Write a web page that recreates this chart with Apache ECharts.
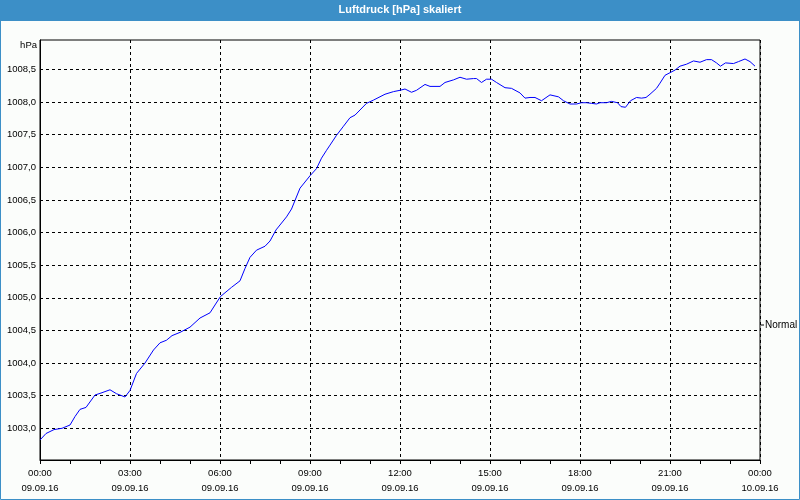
<!DOCTYPE html>
<html><head><meta charset="utf-8">
<script src="https://cdn.jsdelivr.net/npm/echarts@6/dist/echarts.min.js"></script>
<style>html,body{margin:0;padding:0;background:#fbfdfb}#c{width:800px;height:500px}</style>
</head><body><div id="c"></div>
<script>
// Measurement times (09.09.16) and air pressure values [hPa]
const times = ['00:00','00:12','00:28','00:44','01:00','01:10','01:20','01:32','01:50','02:02','02:20','02:33','02:50','03:00','03:13','03:30','03:47','04:00','04:13','04:24','04:40','05:00','05:20','05:40','05:50','06:01','06:23','06:40','06:50','07:00','07:13','07:30','07:40','07:52','08:13','08:23','08:40','09:00','09:13','09:23','09:33','09:40','09:53','10:07','10:20','10:30','10:53','11:07','11:30','11:47','12:00','12:10','12:23','12:33','12:50','13:00','13:20','13:30','13:47','14:00','14:13','14:27','14:33','14:43','14:53','15:03','15:13','15:30','15:43','16:00','16:10','16:20','16:30','16:43','17:00','17:17','17:27','17:40','17:53','18:03','18:13','18:23','18:33','18:40','18:53','19:03','19:15','19:22','19:31','19:41','19:53','20:03','20:12','20:20','20:33','20:40','20:50','21:00','21:10','21:20','21:33','21:47','22:00','22:13','22:23','22:33','22:41','22:51','23:07','23:17','23:30','23:40','23:50'];
const values = [1002.82,1002.92,1002.98,1003.00,1003.05,1003.18,1003.29,1003.32,1003.51,1003.54,1003.59,1003.53,1003.48,1003.58,1003.84,1004.00,1004.20,1004.31,1004.35,1004.42,1004.47,1004.55,1004.69,1004.77,1004.89,1005.02,1005.16,1005.26,1005.45,1005.62,1005.73,1005.79,1005.87,1006.04,1006.24,1006.36,1006.68,1006.87,1006.98,1007.14,1007.26,1007.34,1007.49,1007.63,1007.76,1007.80,1007.98,1008.03,1008.12,1008.16,1008.18,1008.20,1008.15,1008.18,1008.27,1008.24,1008.24,1008.30,1008.34,1008.38,1008.35,1008.36,1008.36,1008.30,1008.35,1008.35,1008.30,1008.22,1008.21,1008.14,1008.06,1008.07,1008.07,1008.02,1008.11,1008.08,1008.02,1007.97,1007.97,1007.99,1007.99,1007.98,1007.97,1007.99,1007.99,1008.01,1007.99,1007.93,1007.92,1008.02,1008.07,1008.06,1008.07,1008.12,1008.21,1008.29,1008.41,1008.45,1008.49,1008.55,1008.58,1008.63,1008.61,1008.65,1008.65,1008.60,1008.55,1008.60,1008.59,1008.62,1008.66,1008.62,1008.55];
const seriesName = 'Normal';
const yTickValues = [1003.0,1003.5,1004.0,1004.5,1005.0,1005.5,1006.0,1006.5,1007.0,1007.5,1008.0,1008.5];
const xLabelTimes = ['00:00','03:00','06:00','09:00','12:00','15:00','18:00','21:00','00:00'];
const xLabelDates = ['09.09.16','09.09.16','09.09.16','09.09.16','09.09.16','09.09.16','09.09.16','09.09.16','10.09.16'];
const titleText = 'Luftdruck [hPa] skaliert';
const yUnit = 'hPa';

const Y_MIN = 1002.514, Y_MAX = 1008.951;
const FONT = 'Liberation Sans';
const toHours = t => { const [h, m] = t.split(':').map(Number); return h + m / 60; };
const data = times.map((t, i) => [toHours(t), values[i]]);

const chart = echarts.init(document.getElementById('c'), null, {renderer: 'canvas'});
chart.setOption({
  backgroundColor: '#fbfdfb',
  animation: false,
  title: {
    text: titleText, left: 'center', top: 3, padding: 0,
    textStyle: {color: '#ffffff', fontFamily: FONT, fontSize: 11, fontWeight: 'bold', lineHeight: 14}
  },
  graphic: [
    {type: 'rect', z: -10, silent: true, shape: {x: 0, y: 0, width: 800, height: 21}, style: {fill: '#3c8fc7'}},
    {type: 'rect', z: 100, silent: true, shape: {x: 0.5, y: 0.5, width: 799, height: 499}, style: {fill: 'none', stroke: '#3c8fc7', lineWidth: 1}}
  ],
  legend: {
    data: [seriesName], left: 761, top: 320, padding: 0, orient: 'vertical',
    icon: 'rect', itemWidth: 3, itemHeight: 1, itemStyle: {color: '#000'},
    textStyle: {fontFamily: FONT, fontSize: 10, color: '#000', padding: [0, 0, 0, -4]}
  },
  grid: {left: 40, right: 40, top: 40, bottom: 40, show: true, borderColor: '#000', borderWidth: 1, backgroundColor: 'transparent'},
  xAxis: {
    type: 'value', min: 0, max: 24, interval: 3,
    axisLine: {show: true, lineStyle: {color: '#000', width: 1}},
    axisTick: {show: true, length: 4, lineStyle: {color: '#000'}},
    minorTick: {show: true, splitNumber: 3, length: 4, lineStyle: {color: '#000'}},
    splitLine: {show: true, lineStyle: {color: '#000', type: [3, 3], width: 1}},
    axisLabel: {
      margin: 6, fontFamily: FONT, fontSize: 9.5, color: '#000', lineHeight: 15,
      formatter: v => { const i = Math.round(v / 3); return xLabelTimes[i] + '\n' + xLabelDates[i]; }
    }
  },
  yAxis: {
    type: 'value', min: Y_MIN, max: Y_MAX,
    name: yUnit, nameLocation: 'end', nameGap: -5,
    nameTextStyle: {fontFamily: FONT, fontSize: 9.5, color: '#000', align: 'right', verticalAlign: 'middle', padding: [0, 3, 0, 0]},
    axisLine: {show: true, lineStyle: {color: '#000', width: 1}},
    axisTick: {show: false, customValues: yTickValues},
    splitLine: {show: true, lineStyle: {color: '#000', type: [3, 3], width: 1}},
    axisLabel: {
      customValues: yTickValues, margin: 4, fontFamily: FONT, fontSize: 9.5, color: '#000',
      formatter: v => v.toFixed(1).replace('.', ',')
    }
  },
  series: [{
    name: seriesName, type: 'line', data: data, showSymbol: false, symbol: 'none',
    lineStyle: {color: '#0000ff', width: 1}, itemStyle: {color: '#0000ff'}
  }]
});
</script></body></html>
